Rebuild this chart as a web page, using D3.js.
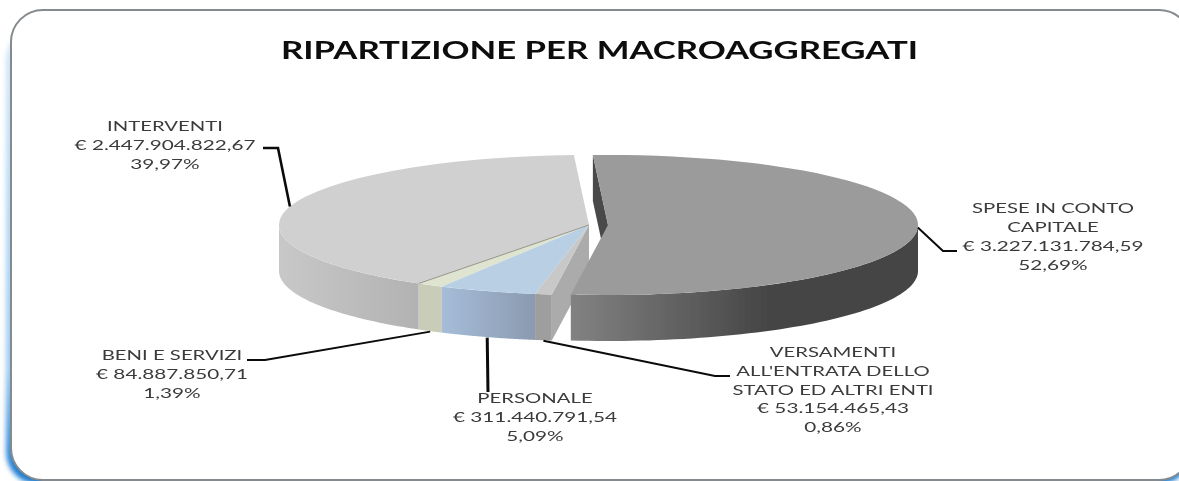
<!DOCTYPE html>
<html><head><meta charset="utf-8">
<script src="https://cdn.jsdelivr.net/npm/d3@7/dist/d3.min.js"></script>
<style>html,body{margin:0;padding:0;background:#fff;overflow:hidden}svg{display:block}</style>
</head><body><svg id="c" width="1179" height="481"></svg>
<script>
const title = "RIPARTIZIONE PER MACROAGGREGATI";
const categories = ["SPESE IN CONTO CAPITALE","VERSAMENTI ALL'ENTRATA DELLO STATO ED ALTRI ENTI","PERSONALE","BENI E SERVIZI","INTERVENTI"];
const values = [3227131784.59, 53154465.43, 311440791.54, 84887850.71, 2447904822.67];
const amountLabels = ["€ 3.227.131.784,59","€ 53.154.465,43","€ 311.440.791,54","€ 84.887.850,71","€ 2.447.904.822,67"];
const percentLabels = ["52,69%","0,86%","5,09%","1,39%","39,97%"];
const categoryLines = [["SPESE IN CONTO","CAPITALE"],["VERSAMENTI","ALL'ENTRATA DELLO","STATO ED ALTRI ENTI"],["PERSONALE"],["BENI E SERVIZI"],["INTERVENTI"]];

// layout and style, separate from the data
const W=1179,H=481, RX=310, RY=70, DEPTH=46, CY=225, CX=589, CX_EXPLODED=608;
const startDeg=-2.8, rad=Math.PI/180;
const topCol=["#9b9b9b","#c8c8c8","#b9cfe4","#dee4d0","#d0d0d0"];
const sideCol=[["#828282","#444444"],["#9e9e9e","#9e9e9e"],["#a6bcd8","#8a9bb0"],["#c9cdb8","#c9cdb8"],["#c8c8c8","#b2b2b2"]];
const labelPos=[{x:1053,y:213.3},{x:833,y:356.7},{x:535,y:402.7},{x:172,y:360},{x:165,y:131}];
const elbows=[[[943,251],[957,251]],[[715,376],[730,376]],[[488,392]],[[265,360],[247,360]],[[278,148],[263,148]]];
const leaderW=[2,2,3,2,2.6];
const frontOf=[false,true,true,true,false]; // leader starts on the lower rim of the wall

const svg=d3.select("#c");
const defs=svg.append("defs");
const glow=defs.append("linearGradient").attr("id","glowG").attr("x1",0).attr("y1",0).attr("x2",0).attr("y2",1);
glow.append("stop").attr("offset",0).attr("stop-color","#d4e8f8");
glow.append("stop").attr("offset",0.75).attr("stop-color","#9cc9ef");
glow.append("stop").attr("offset",1).attr("stop-color","#1075cf");
defs.append("filter").attr("id","gb").attr("x","-5%").attr("y","-5%").attr("width","110%").attr("height","110%")
  .append("feGaussianBlur").attr("stdDeviation",2.6);
defs.append("filter").attr("id","soft").attr("x","-5%").attr("y","-20%").attr("width","110%").attr("height","140%")
  .append("feGaussianBlur").attr("stdDeviation",0.35);
defs.append("filter").attr("id","soft2").attr("x","-5%").attr("y","-5%").attr("width","110%").attr("height","110%")
  .append("feGaussianBlur").attr("stdDeviation",0.45);

// frame
svg.append("rect").attr("x",6).attr("y",28).attr("width",1185).attr("height",456).attr("rx",32)
  .attr("fill","url(#glowG)").attr("filter","url(#gb)");
svg.append("rect").attr("x",11).attr("y",10).attr("width",1180).attr("height",470).attr("rx",32)
  .attr("fill","#fff").attr("stroke","#858a8e").attr("stroke-width",2);

// pie geometry
const pie=d3.pie().value(d=>d).sort(null).startAngle(startDeg*rad).endAngle((startDeg+360)*rad);
const arcs=pie(values);
const arcGen=d3.arc().innerRadius(0).outerRadius(RX);
const centerX=i=>i===0?CX_EXPLODED:CX;
const proj=(t,i,dy=0)=>[centerX(i)+RX*Math.sin(t),CY-RY*Math.cos(t)+dy];

// side wall path between angles along the front rim
function sidePath(a0,a1,i){
  const s=Math.max(a0,Math.PI/2), e=Math.min(a1,Math.PI*1.5);
  if(e<=s) return null;
  const ts=d3.range(0,61).map(k=>s+(e-s)*k/60);
  const line=d3.line();
  return line(ts.map(t=>proj(t,i)))+"L"+ts.slice().reverse().map(t=>proj(t,i,DEPTH).join(",")).join("L")+"Z";
}
function addSideGrad(i,a0,a1){
  const s=Math.max(a0,Math.PI/2), e=Math.min(a1,Math.PI*1.5);
  if(e<=s) return;
  const x0=proj(s,i)[0], x1=proj(e,i)[0];
  const g=defs.append("linearGradient").attr("id","side"+i).attr("gradientUnits","userSpaceOnUse")
    .attr("x1",Math.min(x0,x1)).attr("x2",Math.max(x0,x1)).attr("y1",0).attr("y2",0);
  g.append("stop").attr("offset",0).attr("stop-color",sideCol[i][0]);
  g.append("stop").attr("offset",i===0?0.58:1).attr("stop-color",sideCol[i][1]);
}
const pie3d=svg.append("g").attr("filter","url(#soft2)");

// inner wall of the small grey slice, seen through the gap
const vers=arcs[1];
const pA=[CX,CY], pB=[CX,CY+DEPTH], pC=proj(vers.startAngle,1,DEPTH), pD=proj(vers.startAngle,1);
pie3d.append("path").attr("d",d3.line()([pA,pB,pC,pD])+"Z").attr("fill","#ababab");

// the four slices sitting at the common centre: walls, then tops
[4,3,2,1].forEach(i=>{
  const a=arcs[i];
  addSideGrad(i,a.startAngle,a.endAngle);
  const d=sidePath(a.startAngle,a.endAngle,i);
  if(d) pie3d.append("path").attr("d",d).attr("fill","url(#side"+i+")");
});
[4,3,2,1].forEach(i=>{
  pie3d.append("path").attr("d",arcGen(arcs[i]))
    .attr("transform",`translate(${CX},${CY}) scale(1,${RY/RX})`).attr("fill",topCol[i]);
});
pie3d.append("path").attr("d",d3.line()([[CX,CY],proj(arcs[4].startAngle,4)]))
  .attr("stroke","#8c8c80").attr("stroke-width",0.9).attr("fill","none");

// the pulled-out large slice
const sp=arcs[0];
const w0=[centerX(0),CY], w1=proj(sp.startAngle,0);
pie3d.append("path").attr("d",d3.line()([w0,w1,[w1[0],w1[1]+DEPTH],[w0[0],w0[1]+DEPTH]])+"Z").attr("fill","#4a4a4a");
addSideGrad(0,sp.startAngle,sp.endAngle);
pie3d.append("path").attr("d",sidePath(sp.startAngle,sp.endAngle,0)).attr("fill","url(#side0)");
pie3d.append("path").attr("d",arcGen(sp))
  .attr("transform",`translate(${centerX(0)},${CY}) scale(1,${RY/RX})`).attr("fill",topCol[0]);

// leader lines from each slice's mid angle
arcs.forEach((a,i)=>{
  const mid=(a.startAngle+a.endAngle)/2;
  const start=proj(mid,i,frontOf[i]?DEPTH+0.5:0);
  svg.append("path").attr("d",d3.line()([start,...elbows[i]]))
    .attr("fill","none").attr("stroke","#0b0b0b").attr("stroke-width",leaderW[i]);
});

// labels
const LH=18.9, SX_NAME=1.43, SX_NUM=1.46;
const txt=svg.append("g").attr("filter","url(#soft)")
  .attr("font-family","Lato, 'Open Sans', sans-serif").attr("font-size",14.2).attr("fill","#3a3a3a").attr("text-anchor","middle");
categories.forEach((c,i)=>{
  const names=categoryLines[i];
  const lines=[...names,amountLabels[i],percentLabels[i]];
  lines.forEach((l,k)=>{
    const sx=k<names.length?SX_NAME:SX_NUM;
    txt.append("text").attr("transform",`translate(${labelPos[i].x},${labelPos[i].y+k*LH}) scale(${sx},1)`).text(l);
  });
});

// title
svg.append("text").attr("x",281).attr("y",59).attr("font-family","Lato, sans-serif").attr("font-weight",700)
  .attr("font-size",25.5).attr("fill","#0a0a0a").attr("textLength",637).attr("lengthAdjust","spacingAndGlyphs")
  .attr("filter","url(#soft)").text(title);
</script></body></html>
